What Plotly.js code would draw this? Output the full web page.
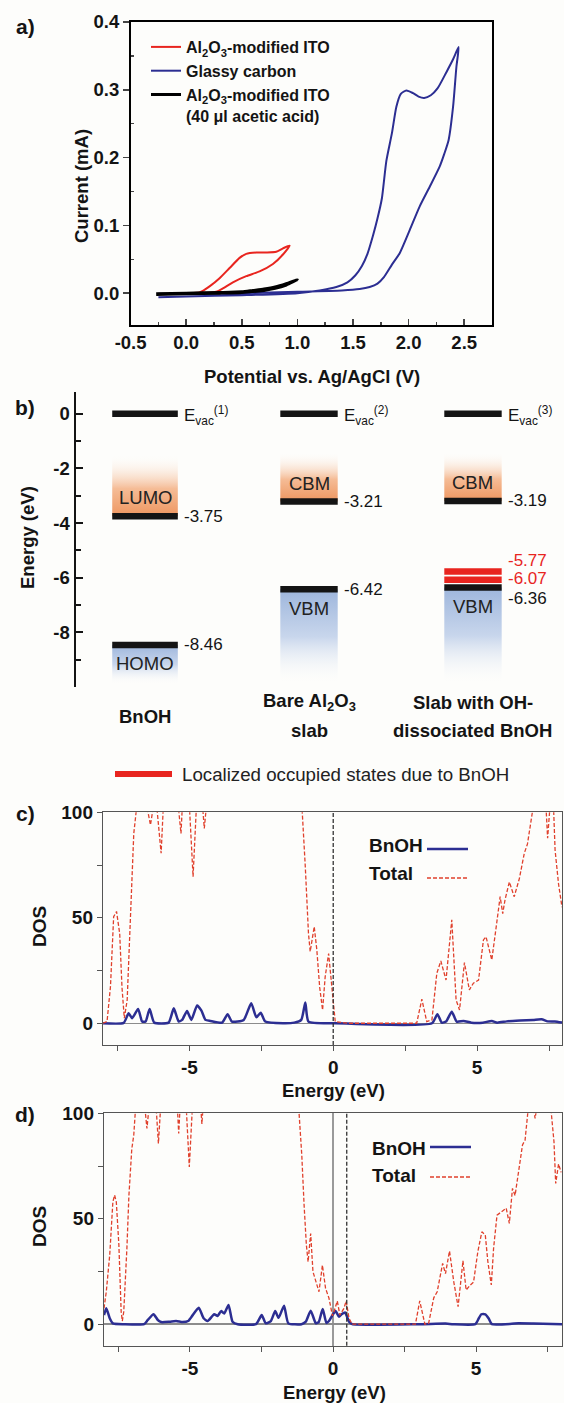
<!DOCTYPE html>
<html><head><meta charset="utf-8">
<script src="https://cdn.plot.ly/plotly-3.0.1.min.js"></script>
<style>html,body{margin:0;padding:0;background:#fdfdfb}</style>
</head><body>
<div id="chart" style="width:564px;height:1403px"></div>
<script>
// ---------- Panel a: cyclic voltammograms ----------
const redV   = [-0.05, 0.0, 0.12, 0.21, 0.30, 0.39, 0.48, 0.54, 0.63, 0.72, 0.81, 0.87, 0.93, 0.87, 0.78, 0.66, 0.54, 0.42, 0.33, 0.27, 0.18, 0.05, -0.05];
const redI   = [-0.001, 0.0, 0.001, 0.010, 0.022, 0.037, 0.052, 0.058, 0.060, 0.060, 0.061, 0.066, 0.070, 0.057, 0.043, 0.032, 0.025, 0.016, 0.007, 0.002, 0.000, -0.001, -0.001];
const blueV  = [-0.25, 0.0, 0.5, 1.0, 1.2, 1.35, 1.45, 1.52, 1.58, 1.63, 1.68, 1.72, 1.76, 1.80, 1.85, 1.89, 1.93, 1.98, 2.04, 2.09, 2.14, 2.20, 2.26, 2.34, 2.40, 2.45,
                2.43, 2.40, 2.36, 2.32, 2.28, 2.19, 2.10, 2.01, 1.92, 1.85, 1.78, 1.72, 1.65, 1.56, 1.40, 1.0, 0.5, 0.0, -0.25];
const blueI  = [-0.006, -0.005, -0.003, 0.000, 0.004, 0.009, 0.016, 0.026, 0.040, 0.058, 0.085, 0.110, 0.140, 0.195, 0.236, 0.275, 0.294, 0.299, 0.295, 0.290, 0.288, 0.292, 0.302, 0.326, 0.345, 0.363,
                0.334, 0.275, 0.226, 0.205, 0.187, 0.157, 0.128, 0.093, 0.059, 0.042, 0.024, 0.014, 0.009, 0.006, 0.004, 0.002, 0.000, -0.001, -0.001];
const blackV = [-0.27, 0.0, 0.3, 0.5, 0.6, 0.7, 0.8, 0.9, 1.0, 0.9, 0.8, 0.7, 0.5, 0.3, 0.0, -0.27];
const blackI = [-0.001, 0.0, 0.001, 0.002, 0.004, 0.006, 0.009, 0.014, 0.020, 0.012, 0.007, 0.004, 0.001, 0.000, -0.001, -0.002];
const aXTicks = [-0.5, 0.0, 0.5, 1.0, 1.5, 2.0, 2.5];
const aXTickText = ['-0.5', '0.0', '0.5', '1.0', '1.5', '2.0', '2.5'];
const aYTicks = [0.0, 0.1, 0.2, 0.3, 0.4];
const aYTickText = ['0.0', '0.1', '0.2', '0.3', '0.4'];
const aNames = ['Al<sub>2</sub>O<sub>3</sub>-modified ITO', 'Glassy carbon', 'Al<sub>2</sub>O<sub>3</sub>-modified ITO<br>(40 \u03bcl acetic acid)'];

// ---------- Panel b: energy levels ----------
const systemsLine1 = ['BnOH', 'Bare Al<sub>2</sub>O<sub>3</sub>', 'Slab with OH-'];
const systemsLine2 = ['', 'slab', 'dissociated BnOH'];
const evacLevels = [0, 0, 0];
const upperLevels = [-3.75, -3.21, -3.19];
const lowerLevels = [-8.46, -6.42, -6.36];
const upperNames = ['LUMO', 'CBM', 'CBM'];
const lowerNames = ['HOMO', 'VBM', 'VBM'];
const localizedLevels = [-5.77, -6.07];
const bYTicks = [0, -2, -4, -6, -8];
const bYTickText = ['0', '-2', '-4', '-6', '-8'];
const bLegendText = 'Localized occupied states due to BnOH';

// ---------- Panel c: DOS ----------
const cTotalE = [-8.0, -7.86, -7.74, -7.63, -7.53, -7.42, -7.34, -7.26, -7.16, -7.07, -6.99, -6.93, -6.85, -6.65, -6.45, -6.35, -6.27, -6.2, -6.12, -5.98, -5.91, -5.6, -5.37, -5.29, -5.25, -5.1, -4.99, -4.87, -4.76, -4.62, -4.53, -4.48, -4.42, -3.5, -2.0, -1.08,
                 -0.97, -0.86, -0.80, -0.71, -0.66, -0.57, -0.47, -0.37, -0.28, -0.16, -0.05, 0.07, 0.5, 1.5, 2.9, 3.08, 3.25, 3.43, 3.60, 3.74, 3.92, 4.12, 4.27, 4.39, 4.56, 4.73, 4.87, 5.05, 5.22, 5.31, 5.51, 5.68, 5.80, 5.89, 5.97, 6.12, 6.29, 6.47, 6.64, 6.75, 6.84, 6.92,
                 7.15, 7.40, 7.45, 7.51, 7.60, 7.66, 7.71, 7.83, 7.95];
const cTotalD = [0, 0.8, 17.4, 50.5, 53, 42.6, 17, 2.4, 11, 42.6, 77, 90, 100, 130, 101, 94, 101, 115, 101, 80.6, 101, 130, 101, 90, 101, 118, 101, 69.5, 101, 115, 101, 92.4, 101, 140, 140, 101,
                 74, 42.6, 34, 42.6, 45.8, 34.8, 17, 6.3, 22, 33, 17, 0.8, 0, 0, 0, 11.4, 0.8, 1.6, 23.7, 29.5, 20.5, 49, 11, 6.3, 28.8, 15.8, 19, 20.5, 39.5, 41, 30, 47.4, 60, 52, 58.5, 67, 60, 68.7, 80.6, 85, 92.4, 100,
                 130, 101, 87.7, 101, 115, 101, 82, 66, 55];
const cBnohE = [-8.0, -7.28, -7.11, -6.99, -6.78, -6.64, -6.52, -6.38, -6.22, -5.72, -5.54, -5.37, -5.25, -5.08, -4.93, -4.73, -4.58, -4.44, -4.27, -3.86, -3.67, -3.52, -3.11, -2.85, -2.67, -2.52, -2.36, -1.75, -1.35, -1.11, -0.97, -0.86, 0.0,
                3.43, 3.62, 3.77, 3.92, 4.12, 4.29, 4.53, 4.80, 5.20, 5.51, 5.70, 6.03, 6.49, 6.95, 7.24, 7.45, 7.70, 7.95];
const cBnohD = [0, 0.2, 4.7, 2.4, 6.8, 0.8, 0.8, 6.8, 0.3, 0.3, 7.1, 0.8, 1.6, 5.8, 1.6, 8.4, 6.0, 1.6, 1.1, 0.3, 4.3, 0.8, 1.6, 9.5, 2.8, 5.0, 0.8, 0, 0.3, 1.6, 9.8, 0.8, 0,
                0, 4.3, 0.3, 0.8, 5.5, 0.8, 1.1, 0.3, 0.3, 1.1, 0.3, 0.9, 1.3, 1.6, 1.9, 0.9, 0.8, 0.3];
const cFermi = 0.0;

// ---------- Panel d: DOS ----------
const dTotalE = [-8.0, -7.92, -7.8, -7.69, -7.63, -7.57, -7.48, -7.40, -7.36, -7.31, -7.2, -7.13, -7.03, -6.96, -6.91, -6.7, -6.56, -6.5, -6.44, -6.3, -6.17, -6.1, -6.03, -5.7, -5.43, -5.39, -5.35, -5.2, -5.12, -5.02, -4.92, -4.7, -4.61, -4.58, -4.55, -3.0, -1.19,
                 -1.09, -1.01, -0.93, -0.87, -0.78, -0.70, -0.63, -0.49, -0.37, -0.26, -0.14, -0.02, 0.07, 0.15, 0.24, 0.38, 0.46, 0.56, 0.67, 1.5, 2.88, 3.03, 3.21, 3.34, 3.52, 3.64, 3.83, 3.93, 4.07, 4.22, 4.37, 4.54, 4.65, 4.80, 4.91, 5.06, 5.20, 5.32, 5.41, 5.53,
                 5.61, 5.73, 5.88, 6.05, 6.16, 6.27, 6.36, 6.48, 6.62, 6.71, 6.83, 6.95, 7.02, 7.06, 7.10, 7.30, 7.62, 7.72, 7.78, 7.88, 7.97];
const dTotalD = [7.5, 15.4, 32.8, 58, 61.2, 58, 37.5, 5.9, 1.5, 5.9, 36, 61, 83, 89.7, 100, 130, 101, 92.8, 101, 115, 101, 85.7, 101, 130, 101, 90.4, 101, 115, 101, 74.6, 101, 115, 101, 95, 101, 140, 101,
                 80, 56.5, 37.5, 29.6, 43, 24.9, 21.7, 15.4, 28, 17, 12.3, 4, 7.5, 11, 4.3, 7.5, 11, 2.8, 0, 0, 0, 11, 0, 0.4, 12.5, 15.4, 28.8, 24, 34.7, 20, 8.3, 30, 16.2, 18.6, 20, 34.4, 43.8, 42.3, 29.6, 18.6,
                 36, 51.7, 53.3, 55, 47.8, 64.4, 61, 72.3, 85, 87.3, 100, 120, 101, 97.6, 101, 130, 101, 86.5, 66.7, 76, 72];
const dBnohE = [-8.0, -7.92, -7.8, -7.69, -7.3, -6.6, -6.47, -6.27, -6.12, -6.0, -5.71, -5.48, -5.25, -5.06, -4.9, -4.69, -4.52, -4.38, -4.15, -4.03, -3.91, -3.8, -3.65, -3.51, -3.33, -2.69, -2.49, -2.35, -2.17, -2.02, -1.9, -1.71, -1.56, -1.1,
                -0.95, -0.78, -0.6, -0.5, -0.36, -0.23, -0.14, 0.0, 0.09, 0.21, 0.30, 0.42, 0.56, 0.67, 3.0, 3.93, 4.2, 4.97, 5.09, 5.18, 5.32, 5.44, 5.55, 6.48, 7.0, 8.0];
const dBnohD = [4.3, 7.5, 2.8, 0.4, 0, 0, 2, 4.7, 2, 1.0, 1.2, 1.5, 1.0, 1.5, 4.3, 7.8, 2.8, 1.5, 4.7, 3.9, 6.2, 5.1, 9.1, 1.2, 0, 0, 4.3, 0.4, 1.5, 6.2, 3.0, 8.8, 0.4, 0,
                1.2, 6.4, 0.4, 1.0, 7.2, 0.6, 1.5, 4.7, 6.2, 3.5, 4.7, 5.6, 1.2, 0, 0, 0.3, 0, 0, 2.7, 4.7, 4.7, 2.7, 0, 0.4, 0.3, 0];
const dFermi = 0.48;
const dosXTicks = [-5, 0, 5];
const dosXTickText = ['-5', '0', '5'];
const dosYTicks = [0, 50, 100];
const dosNames = ['BnOH', 'Total'];

// ---------- layout helpers ----------
const W = 564, H = 1403;
const fx = p => p / W;
const fy = p => 1 - p / H;
const FONT = 'Liberation Sans, Arial, Helvetica, sans-serif';
const INK = '#141414';
const RED = '#e8251f';
const NAVY = '#2c2e92';
const DOSRED = '#e0402c';
const boldFont = (s, c) => ({family: FONT, size: s, color: c || INK, weight: 'bold'});
const regFont = (s, c) => ({family: FONT, size: s, color: c || INK});

const traces = [];
const annotations = [];
const shapes = [];
function ann(text, x, y, font, extra) {
  annotations.push(Object.assign({text, x: fx(x), y: fy(y), xref: 'paper', yref: 'paper', showarrow: false,
    xanchor: 'center', yanchor: 'middle', font}, extra || {}));
}

// Panel a traces
traces.push({x: redV, y: redI, xaxis: 'x', yaxis: 'y', mode: 'lines', name: aNames[0], legendrank: 1,
  line: {color: RED, width: 2, shape: 'spline', smoothing: 0.6}});
traces.push({x: blueV, y: blueI, xaxis: 'x', yaxis: 'y', mode: 'lines', name: aNames[1], legendrank: 2,
  line: {color: NAVY, width: 2, shape: 'spline', smoothing: 0.6}});
traces.push({x: blackV, y: blackI, xaxis: 'x', yaxis: 'y', mode: 'lines', name: aNames[2], legendrank: 3,
  line: {color: '#000', width: 3, shape: 'spline', smoothing: 0.6}});

// Panel b
const colCenter = [0, 1, 2];
const colHalf = [0.2, 0.175, 0.175];
const orangeTop = [-1.5, -1.4, -1.4];
const blueBottom = [-9.9, -9.9, -9.9];
for (let i = 0; i < 3; i++) {
  const l = colCenter[i] - colHalf[i], r = colCenter[i] + colHalf[i];
  traces.push({x: [l, r, r, l, l], y: [upperLevels[i], upperLevels[i], orangeTop[i], orangeTop[i], upperLevels[i]],
    xaxis: 'x2', yaxis: 'y2', mode: 'lines', line: {width: 0, color: 'rgba(0,0,0,0)'}, fill: 'toself', showlegend: false, hoverinfo: 'skip',
    fillcolor: 'rgba(240,160,110,0.6)',
    fillgradient: {type: 'vertical', start: upperLevels[i], stop: orangeTop[i],
      colorscale: [[0, 'rgb(238,150,96)'], [0.45, 'rgb(245,188,150)'], [1, 'rgba(253,253,251,0)']]}});
  traces.push({x: [l, r, r, l, l], y: [blueBottom[i], blueBottom[i], lowerLevels[i], lowerLevels[i], blueBottom[i]],
    xaxis: 'x2', yaxis: 'y2', mode: 'lines', line: {width: 0, color: 'rgba(0,0,0,0)'}, fill: 'toself', showlegend: false, hoverinfo: 'skip',
    fillcolor: 'rgba(160,184,220,0.6)',
    fillgradient: {type: 'vertical', start: blueBottom[i], stop: lowerLevels[i],
      colorscale: [[0, 'rgba(253,253,251,0)'], [0.5, 'rgb(200,214,236)'], [1, 'rgb(158,182,220)']]}});
}
function bar(i, e, color) {
  traces.push({x: [colCenter[i] - colHalf[i], colCenter[i] + colHalf[i]], y: [e, e], xaxis: 'x2', yaxis: 'y2',
    mode: 'lines', line: {color, width: 6.5}, showlegend: false, hoverinfo: 'skip'});
}
for (let i = 0; i < 3; i++) {
  bar(i, evacLevels[i], INK);
  bar(i, upperLevels[i], INK);
  bar(i, lowerLevels[i], INK);
}
localizedLevels.forEach(e => bar(2, e, RED));

function bAnn(text, i, e, font, extra) {
  annotations.push(Object.assign({text, x: colCenter[i] + colHalf[i], y: e, xref: 'x2', yref: 'y2', showarrow: false,
    xanchor: 'left', yanchor: 'middle', xshift: 4, font}, extra || {}));
}
for (let i = 0; i < 3; i++) {
  bAnn('E<sub>vac</sub><sup>(' + (i + 1) + ')</sup>', i, evacLevels[i], regFont(17), {yshift: -2});
  bAnn(String(upperLevels[i].toFixed(2)), i, upperLevels[i], regFont(17));
  annotations.push({text: upperNames[i], x: colCenter[i], y: upperLevels[i], xref: 'x2', yref: 'y2', showarrow: false,
    xanchor: 'center', yanchor: 'middle', yshift: 18.5, font: regFont(18.5, '#222')});
  annotations.push({text: lowerNames[i], x: colCenter[i], y: lowerLevels[i], xref: 'x2', yref: 'y2', showarrow: false,
    xanchor: 'center', yanchor: 'middle', yshift: -19, font: regFont(18.5, '#222')});
  if (i < 2) bAnn(String(lowerLevels[i].toFixed(2)), i, lowerLevels[i], regFont(17));
}
bAnn(localizedLevels[0].toFixed(2), 2, localizedLevels[0], regFont(17, RED), {yshift: 11});
bAnn(localizedLevels[1].toFixed(2), 2, localizedLevels[1], regFont(17, RED), {yshift: 1});
bAnn(lowerLevels[2].toFixed(2), 2, lowerLevels[2], regFont(17), {yshift: -11});
for (let i = 0; i < 3; i++) {
  if (systemsLine2[i]) {
    annotations.push({text: systemsLine1[i], x: colCenter[i], y: fy(702), xref: 'x2', yref: 'paper', showarrow: false, xanchor: 'center', yanchor: 'middle', font: boldFont(18.5)});
    annotations.push({text: systemsLine2[i], x: colCenter[i], y: fy(730), xref: 'x2', yref: 'paper', showarrow: false, xanchor: 'center', yanchor: 'middle', font: boldFont(18.5)});
  } else {
    annotations.push({text: systemsLine1[i], x: colCenter[i], y: fy(716), xref: 'x2', yref: 'paper', showarrow: false, xanchor: 'center', yanchor: 'middle', font: boldFont(18.5)});
  }
}
shapes.push({type: 'line', xref: 'paper', yref: 'paper', x0: fx(115), x1: fx(172), y0: fy(774), y1: fy(774), line: {color: RED, width: 6}});
ann(bLegendText, 180, 774, regFont(18.7, '#222'), {xanchor: 'left'});

// Panels c, d
traces.push({x: cBnohE, y: cBnohD, xaxis: 'x3', yaxis: 'y3', mode: 'lines', name: dosNames[0], showlegend: false,
  line: {color: NAVY, width: 2.5, shape: 'spline', smoothing: 0.5}});
traces.push({x: cTotalE, y: cTotalD, xaxis: 'x3', yaxis: 'y3', mode: 'lines', name: dosNames[1], showlegend: false,
  line: {color: DOSRED, width: 1.3, dash: '4px,2px'}});
traces.push({x: dBnohE, y: dBnohD, xaxis: 'x4', yaxis: 'y4', mode: 'lines', name: dosNames[0], showlegend: false,
  line: {color: NAVY, width: 2.5, shape: 'spline', smoothing: 0.5}});
traces.push({x: dTotalE, y: dTotalD, xaxis: 'x4', yaxis: 'y4', mode: 'lines', name: dosNames[1], showlegend: false,
  line: {color: DOSRED, width: 1.3, dash: '4px,2px'}});
shapes.push({type: 'line', xref: 'x3', yref: 'y3 domain', x0: cFermi, x1: cFermi, y0: 0, y1: 1, line: {color: '#333', width: 1.3, dash: '4px,2px'}});
shapes.push({type: 'line', xref: 'x4', yref: 'y4 domain', x0: dFermi, x1: dFermi, y0: 0, y1: 1, line: {color: '#333', width: 1.3, dash: '4px,2px'}});

// manual DOS legends (text left of sample line)
function dosLegend(yB, yT, lineX0, lineX1, lineYB, lineYT, textX) {
  ann(dosNames[0], textX, yB, boldFont(19), {xanchor: 'left'});
  ann(dosNames[1], textX, yT, boldFont(19), {xanchor: 'left'});
  shapes.push({type: 'line', xref: 'paper', yref: 'paper', x0: fx(lineX0), x1: fx(lineX1), y0: fy(lineYB), y1: fy(lineYB), line: {color: NAVY, width: 2.5}});
  shapes.push({type: 'line', xref: 'paper', yref: 'paper', x0: fx(lineX0), x1: fx(lineX1), y0: fy(lineYT), y1: fy(lineYT), line: {color: DOSRED, width: 1.3, dash: '4px,2px'}});
}
dosLegend(846, 873, 427, 468, 849, 878, 367);
dosLegend(1148, 1175, 430, 471, 1147, 1177, 370);

// labels and axis titles
ann('a)', 25, 26, boldFont(21));
ann('b)', 25, 407, boldFont(21));
ann('c)', 25, 814, boldFont(21));
ann('d)', 25, 1114, boldFont(21));
ann('Current (mA)', 82, 186, boldFont(18.5), {textangle: -90});
ann('Potential vs. Ag/AgCl (V)', 312, 377, boldFont(18.5));
ann('Energy (eV)', 27, 538, boldFont(18.5), {textangle: -90});
ann('DOS', 39, 927, boldFont(19), {textangle: -90});
ann('DOS', 39, 1227, boldFont(19), {textangle: -90});
ann('Energy (eV)', 333, 1090, boldFont(18.5));
ann('Energy (eV)', 334, 1392, boldFont(18.5));

const dosX = (dom, anchor, range, zl) => ({domain: dom, anchor, range, showline: true, mirror: true, linecolor: '#555', linewidth: 1.2,
  ticks: 'outside', ticklen: 5, tickcolor: '#555', tickvals: dosXTicks, ticktext: dosXTickText, tickfont: boldFont(19),
  minor: {tickvals: [-7.5, -2.5, 2.5, 7.5], ticks: 'outside', ticklen: 5, tickcolor: '#555'},
  showgrid: false, zeroline: zl, zerolinecolor: '#9a9a9a', zerolinewidth: 1.2, fixedrange: true});
const dosY = (dom, anchor, range) => ({domain: dom, anchor, range, showline: true, mirror: true, linecolor: '#555', linewidth: 1.2,
  ticks: 'outside', ticklen: 5, tickcolor: '#555', tickvals: dosYTicks, tickfont: boldFont(19),
  minor: {tickvals: [25, 75], ticks: 'outside', ticklen: 5, tickcolor: '#555'},
  showgrid: false, zeroline: true, zerolinecolor: '#8c8c8c', zerolinewidth: 1.5, fixedrange: true});

const layout = {
  width: W, height: H, margin: {l: 0, r: 0, t: 0, b: 0},
  paper_bgcolor: '#fdfdfb', plot_bgcolor: 'rgba(0,0,0,0)',
  font: {family: FONT, color: INK},
  hovermode: false,
  showlegend: true,
  legend: {x: fx(146), y: fy(30), xanchor: 'left', yanchor: 'top', bgcolor: 'rgba(0,0,0,0)', font: boldFont(16), valign: 'top', tracegroupgap: 0},
  xaxis: {domain: [fx(130.6), fx(492)], anchor: 'y', range: [-0.5, 2.75], showline: true, mirror: true, linecolor: '#000', linewidth: 1.6,
    ticks: 'inside', ticklen: 6, tickwidth: 1.5, tickvals: aXTicks, ticktext: aXTickText, tickfont: boldFont(18.5),
    minor: {tickvals: [-0.25, 0.25, 0.75, 1.25, 1.75, 2.25], ticks: 'inside', ticklen: 3},
    showgrid: false, zeroline: false, fixedrange: true},
  yaxis: {domain: [fy(325), fy(22)], anchor: 'x', range: [-0.047, 0.4], showline: true, mirror: true, linecolor: '#000', linewidth: 1.6,
    ticks: 'outside', ticklen: 6, tickwidth: 1.5, tickvals: aYTicks, ticktext: aYTickText, tickfont: boldFont(18.5),
    minor: {tickvals: [-0.05, 0.05, 0.15, 0.25, 0.35], ticks: 'inside', ticklen: 3},
    showgrid: false, zeroline: false, fixedrange: true},
  xaxis2: {domain: [fx(75.5), 1], anchor: 'y2', range: [-0.424, 2.555], visible: false, fixedrange: true},
  yaxis2: {domain: [fy(687), fy(392)], anchor: 'x2', range: [-10, 0.8], showline: true, linecolor: INK, linewidth: 2,
    ticks: 'inside', ticklen: 7, tickwidth: 2, tickcolor: INK, tickvals: bYTicks, ticktext: bYTickText, tickfont: boldFont(18.5),
    minor: {tickvals: [-1, -3, -5, -7, -9], ticks: 'inside', ticklen: 5, tickwidth: 2, tickcolor: INK},
    showgrid: false, zeroline: false, fixedrange: true},
  xaxis3: dosX([fx(103), fx(562)], 'y3', [-8, 7.95], false),
  yaxis3: dosY([fy(1045), fy(812.3)], 'x3', [-10.3, 100]),
  xaxis4: dosX([fx(104), fx(562)], 'y4', [-8, 8], true),
  yaxis4: dosY([fy(1345.7), fy(1113.3)], 'x4', [-10.2, 100]),
  annotations, shapes
};

Plotly.newPlot('chart', traces, layout, {staticPlot: true, displayModeBar: false});
</script>
</body></html>
